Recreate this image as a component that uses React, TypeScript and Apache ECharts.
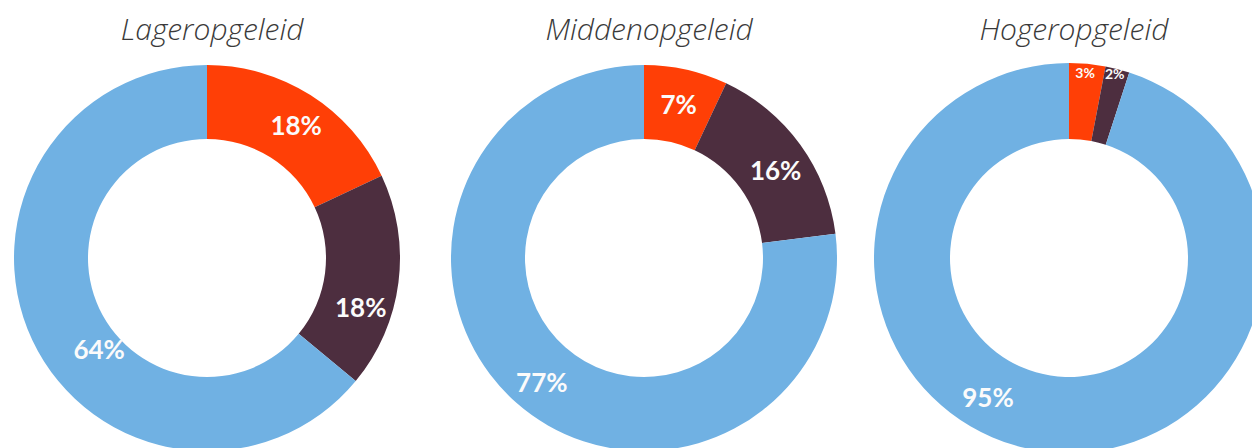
import React, { useEffect, useRef } from "react";
import * as echarts from "echarts";

const groups = ["Lageropgeleid", "Middenopgeleid", "Hogeropgeleid"];
const categories = ["Rood", "Paars", "Blauw"];
const lagerValues = [18, 18, 64];
const middenValues = [7, 16, 77];
const hogerValues = [3, 2, 95];

const colors = ["#FF3F06", "#4D2E3F", "#70B1E3"];
const centersX = [207, 644, 1069];
const outerRadii = [193, 193, 195];
// label nudges [dx, dy] per slice (styling only)
const labelNudges = [
  [[4, 1], [-4, 29], [36, 23]],
  [[0, 1], [3, 5], [3, 5]],
  [[1, -26], [6, -30], [-56, -19]],
];
const labelSizes = [
  [26, 26, 26],
  [26, 26, 26],
  [14, 14, 26],
];

export default function App() {
  const ref = useRef<HTMLDivElement>(null);
  useEffect(() => {
    if (!ref.current) return;
    const chart = echarts.init(ref.current, null, { renderer: "svg" });
    const allValues = [lagerValues, middenValues, hogerValues];
    chart.setOption({
      animation: false,
      backgroundColor: "#ffffff",
      title: groups.map((g, i) => ({
        text: g,
        left: centersX[i],
        top: 8,
        textAlign: "center",
        textStyle: {
          fontFamily: "Open Sans",
          fontStyle: "italic",
          fontWeight: 300,
          fontSize: 30,
          color: "#3a3a3a",
        },
      })),
      series: allValues.map((vals, si) => ({
        type: "pie",
        center: [centersX[si], 258],
        radius: [119, outerRadii[si]],
        startAngle: 90,
        clockwise: true,
        avoidLabelOverlap: false,
        silent: true,
        label: {
          show: true,
          position: "inside",
          formatter: "{c}%",
          color: "#fbfbfb",
          fontFamily: "Lato",
          fontWeight: "bold",
        },
        labelLine: { show: false },
        labelLayout: (params: any) => {
          const n = labelNudges[si][params.dataIndex];
          return { dx: n[0], dy: n[1] };
        },
        data: vals.map((v, i) => ({
          name: categories[i],
          value: v,
          itemStyle: { color: colors[i] },
          label: { fontSize: labelSizes[si][i] },
        })),
      })),
    });
    return () => chart.dispose();
  }, []);
  return (
    <div
      ref={ref}
      style={{ position: "fixed", left: 0, top: 0, width: 1252, height: 448 }}
    />
  );
}
